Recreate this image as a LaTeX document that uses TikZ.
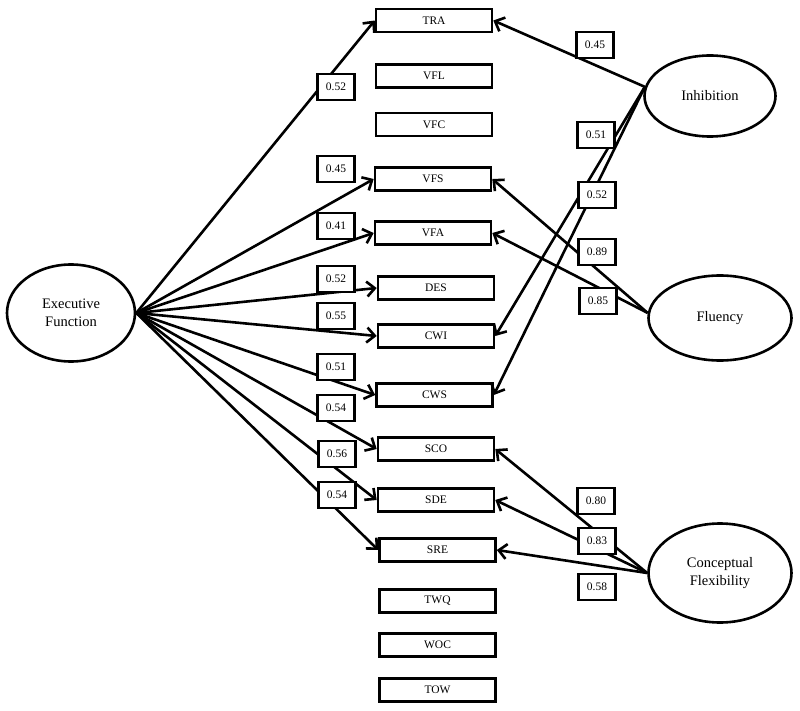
\documentclass[tikz,border=0pt]{standalone}
\usepackage{fontspec}
\setmainfont{Liberation Serif}
\usetikzlibrary{shapes.geometric,arrows.meta}
\begin{document}
\begin{tikzpicture}[x=1pt,y=-1pt,
  ind/.style={draw,line width=2.6pt,minimum width=116pt,minimum height=23pt,inner sep=0pt,font=\fontsize{11.5}{12}\selectfont},
  lat/.style={draw,ellipse,line width=2.6pt,inner sep=0pt,align=center,font=\fontsize{14.5}{18}\selectfont},
  wt/.style={draw,fill=white,line width=2.6pt,minimum width=37pt,minimum height=26pt,inner sep=0pt,font=\fontsize{11.5}{12}\selectfont},
  ld/.style={line width=2.6pt,-{Straight Barb[length=8pt,width=15pt]}}]
\useasboundingbox (0,0) rectangle (800,711);
% latent variables
\node[lat,minimum width=128pt,minimum height=97pt] (ef) at (71,313) {Executive\\Function};
\node[lat,minimum width=131pt,minimum height=81pt] (inh) at (710,96) {Inhibition};
\node[lat,minimum width=143pt,minimum height=85pt] (flu) at (720,318) {Fluency};
\node[lat,minimum width=143pt,minimum height=99pt] (cf) at (720,573) {Conceptual\\Flexibility};
% indicators
\node[ind] (tra) at (434,20.5) {TRA};
\node[ind] (vfl) at (434,76) {VFL};
\node[ind] (vfc) at (434,124.5) {VFC};
\node[ind] (vfs) at (433,179) {VFS};
\node[ind] (vfa) at (433,233) {VFA};
\node[ind] (des) at (436,288) {DES};
\node[ind] (cwi) at (436,336) {CWI};
\node[ind] (cws) at (434.5,395) {CWS};
\node[ind] (sco) at (436,449) {SCO};
\node[ind] (sde) at (436,500) {SDE};
\node[ind] (sre) at (437.5,550) {SRE};
\node[ind] (twq) at (437.5,601) {TWQ};
\node[ind] (woc) at (437.5,645) {WOC};
\node[ind] (tow) at (437.5,690) {TOW};
% executive function loadings
\coordinate (efp) at (ef.east);
\foreach \t in {tra,vfs,vfa,des,cwi,cws,sco,sde,sre}
  \draw[ld] (efp) -- (\t.west);
% inhibition loadings
\coordinate (inp) at (inh.172);
\draw[ld] (inp) -- (tra.east);
\draw[ld] (inp) -- (cwi.east);
\draw[ld] (inp) -- (cws.east);
% fluency loadings
\coordinate (flp) at (flu.176);
\draw[ld] (flp) -- (vfs.east);
\draw[ld] (flp) -- (vfa.east);
% conceptual flexibility loadings
\coordinate (cfp) at (cf.west);
\draw[ld] (cfp) -- (sco.east);
\draw[ld] (cfp) -- (sde.east);
\draw[ld] (cfp) -- (sre.east);
% weights
\node[wt] (w1) at (336,87) {0.52};
\node[wt] (w2) at (336,169) {0.45};
\node[wt] (w3) at (336,226) {0.41};
\node[wt] (w4) at (336,279) {0.52};
\node[wt] (w5) at (336,316) {0.55};
\node[wt] (w6) at (336,367) {0.51};
\node[wt] (w7) at (336,408) {0.54};
\node[wt] (w8) at (337,454) {0.56};
\node[wt] (w9) at (337,495) {0.54};
\node[wt] (w10) at (595,45) {0.45};
\node[wt] (w11) at (596,135) {0.51};
\node[wt] (w12) at (597,195) {0.52};
\node[wt] (w13) at (597,252) {0.89};
\node[wt] (w14) at (598,301) {0.85};
\node[wt] (w15) at (596,501) {0.80};
\node[wt] (w16) at (597,541) {0.83};
\node[wt] (w17) at (597,587) {0.58};
\end{tikzpicture}
\end{document}
